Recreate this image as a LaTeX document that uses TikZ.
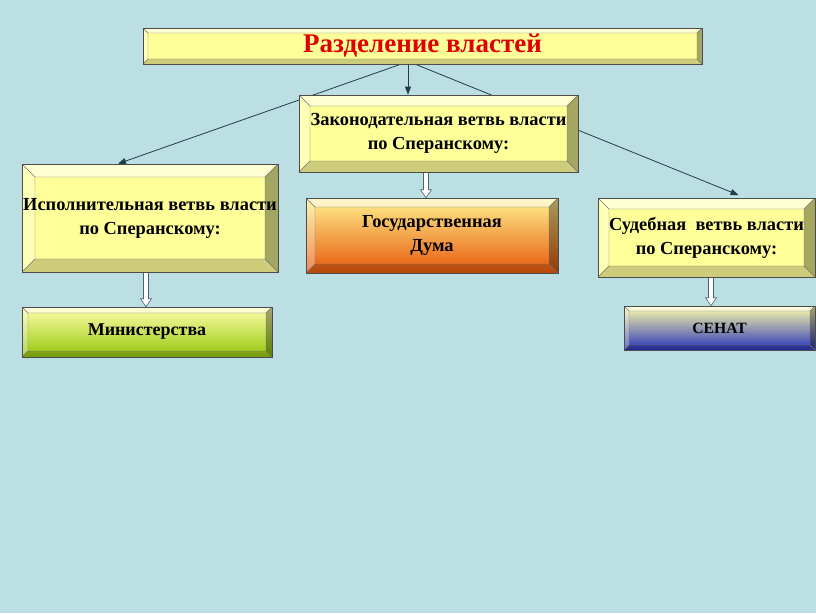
\documentclass[tikz,border=0pt]{standalone}
\usepackage{fontspec}
\setmainfont{Liberation Serif}
\usetikzlibrary{calc,arrows.meta}
\pgfdeclarelayer{bglayer}
\pgfdeclarelayer{linelayer}
\pgfsetlayers{bglayer,linelayer,main}
\definecolor{bgc}{RGB}{187,223,227}
\definecolor{boxy}{RGB}{255,255,153}
\definecolor{titlered}{RGB}{225,0,0}
\definecolor{connc}{RGB}{35,60,75}
\newcommand\bevelfx[1]{%
  \coordinate (bNW) at (path picture bounding box.north west);
  \coordinate (bNE) at (path picture bounding box.north east);
  \coordinate (bSW) at (path picture bounding box.south west);
  \coordinate (bSE) at (path picture bounding box.south east);
  \coordinate (iNW) at ([shift={(#1pt,-#1pt)}]bNW);
  \coordinate (iNE) at ([shift={(-#1pt,-#1pt)}]bNE);
  \coordinate (iSW) at ([shift={(#1pt,#1pt)}]bSW);
  \coordinate (iSE) at ([shift={(-#1pt,#1pt)}]bSE);
  \fill[white,opacity=.55] (bNW)--(bNE)--(iNE)--(iNW)--cycle;
  \fill[white,opacity=.3] (bNW)--(iNW)--(iSW)--(bSW)--cycle;
  \fill[black,opacity=.35] (bNE)--(bSE)--(iSE)--(iNE)--cycle;
  \fill[black,opacity=.2] (bSW)--(iSW)--(iSE)--(bSE)--cycle;
  \draw[black!55,line width=.4pt] (bNW)--(iNW) (bNE)--(iNE) (bSW)--(iSW) (bSE)--(iSE) (iNW) rectangle (iSE);
}
\newcommand\blockarr[3]{%
  \draw[barrow] let \p1=(#1.south), \p2=(#2.north) in
   ({#3pt-2.5pt},{\y1}) -- ({#3pt-2.5pt},{\y2+8pt}) -- ({#3pt-5.5pt},{\y2+8pt}) -- ({#3pt},{\y2})
   -- ({#3pt+5.5pt},{\y2+8pt}) -- ({#3pt+2.5pt},{\y2+8pt}) -- ({#3pt+2.5pt},{\y1}) -- cycle;}
\tikzset{
  bev/.style={draw=black!70, line width=.6pt, inner sep=0pt, align=center,
    path picture={\bevelfx{#1}}},
  bodytext/.style={font=\fontsize{18.4}{24}\selectfont\bfseries, text=black},
  conn/.style={draw=connc, line width=.8pt, -{Triangle[width=6pt,length=8pt]}},
  barrow/.style={draw=connc!80, fill=white, line width=.6pt},
}
\begin{document}
\begin{tikzpicture}[x=1pt,y=-1pt]
\useasboundingbox (0,0) rectangle (816,613);
\begin{pgfonlayer}{bglayer}
\fill[bgc] (0,0) rectangle (816,613);
\end{pgfonlayer}

\node[bev=5, fill=boxy, minimum width=559pt, minimum height=36pt,
  font=\fontsize{27}{30}\selectfont\bfseries, text=titlered] (title) at (422.5,46) {Разделение властей};

\node[bev=11, fill=boxy, minimum width=279pt, minimum height=77pt, bodytext] (leg) at (438.5,133.5)
  {Законодательная ветвь власти\\по Сперанскому:};

\node[bev=13, fill=boxy, minimum width=256pt, minimum height=108pt, bodytext] (exec) at (150,218)
  {Исполнительная ветвь власти\\по Сперанскому:};

\node[bev=9, top color={rgb,255:red,255;green,240;blue,140}, middle color={rgb,255:red,255;green,172;blue,72},
  bottom color={rgb,255:red,232;green,88;blue,12}, minimum width=252pt, minimum height=75pt, bodytext] (duma) at (432,235.5)
  {Государственная\\Дума};

\node[bev=11, fill=boxy, minimum width=217pt, minimum height=79pt, bodytext] (jud) at (706.5,237.5)
  {Судебная~ ветвь власти\\по Сперанскому:};

\node[bev=6, top color={rgb,255:red,255;green,255;blue,170}, bottom color={rgb,255:red,148;green,198;blue,10},
  minimum width=250pt, minimum height=50pt, font=\fontsize{18}{22}\selectfont\bfseries] (min) at (147,332)
  {Министерства};

\node[bev=5, top color={rgb,255:red,255;green,255;blue,170}, bottom color={rgb,255:red,40;green,50;blue,185},
  minimum width=191pt, minimum height=44pt, font=\fontsize{15.7}{18}\selectfont\bfseries] (sen) at (719.5,328)
  {СЕНАТ};

\begin{pgfonlayer}{linelayer}
\draw[conn] (title.south -| 408,0) -- (leg.north -| 408,0);
\draw[conn] ([xshift=-22pt]title.south) -- (exec.north -| 118,0);
\draw[conn, shorten >=7pt] ([xshift=-7pt]title.south) -- (jud.north -| 745,0);
\blockarr{exec}{min}{146}
\blockarr{leg}{duma}{426}
\blockarr{jud}{sen}{711}
\end{pgfonlayer}
\end{tikzpicture}
\end{document}
